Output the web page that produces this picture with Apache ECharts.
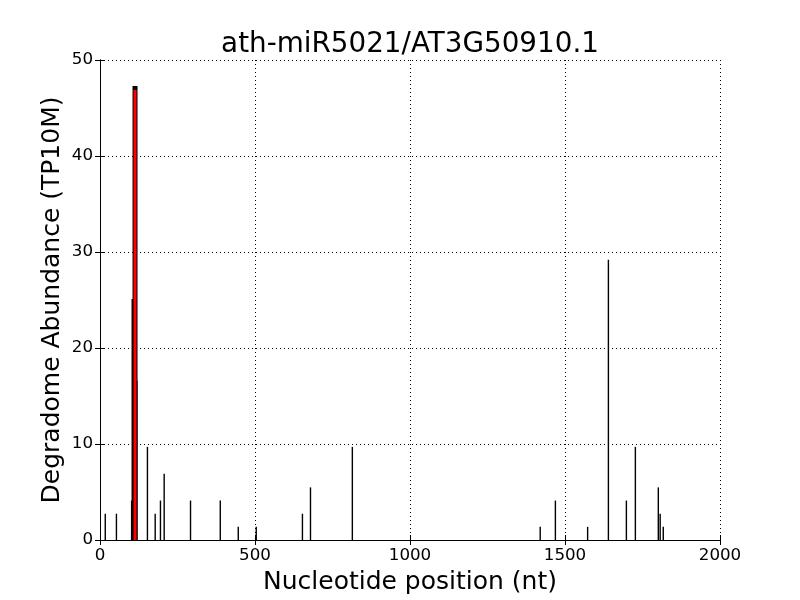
<!DOCTYPE html>
<html>
<head>
<meta charset="utf-8">
<script src="https://cdn.jsdelivr.net/npm/echarts@6/dist/echarts.min.js"></script>
<style>html,body{margin:0;padding:0;background:#fff}#c{width:800px;height:600px}</style>
</head>
<body>
<div id="c"></div>
<script>
var titleText = 'ath-miR5021/AT3G50910.1';
var xName = 'Nucleotide position (nt)';
var yName = 'Degradome Abundance (TP10M)';
var xTicks = [0, 500, 1000, 1500, 2000];
var yTicks = [0, 10, 20, 30, 40, 50];
var positions = [17, 53, 102, 104, 119, 153, 178, 195, 207, 292, 388, 446, 504, 653, 679, 814, 1420, 1469, 1573, 1640, 1698, 1727, 1801, 1807, 1817];
var values = [2.74, 2.74, 4.11, 25.1, 16.6, 9.7, 2.74, 4.11, 6.9, 4.11, 4.11, 1.37, 1.37, 2.74, 5.48, 9.7, 1.37, 4.11, 1.37, 29.2, 4.11, 9.7, 5.48, 2.74, 1.37];
var targetPositions = [113];
var targetValues = [47.3];

var chart = echarts.init(document.getElementById('c'), null, {renderer: 'canvas'});
var font = 'DejaVu Sans';
function pairs(xs, ys) { return xs.map(function (x, i) { return [x, ys[i]]; }); }

function lineItem(color, width, shrink) {
  return function (params, api) {
    var p0 = api.coord([api.value(0), 0]);
    var p1 = api.coord([api.value(0), api.value(1)]);
    return {
      type: 'line',
      shape: {x1: p0[0], y1: p0[1], x2: p1[0], y2: p1[1] + (shrink || 0)},
      style: {stroke: color, lineWidth: width}
    };
  };
}

var axisCommon = {
  axisLine: {show: true, lineStyle: {color: '#000', width: 1}},
  axisTick: {show: true, inside: true, length: 5, lineStyle: {color: '#000'}},
  splitLine: {show: false}
};
var labelStyle = {color: '#000', fontFamily: font, fontSize: 16.7, margin: 7,
  formatter: function (v) { return String(v); }};

chart.setOption({
  animation: false,
  backgroundColor: '#fff',
  title: {
    text: titleText, left: 405, top: 26, textAlign: 'center',
    textStyle: {fontFamily: font, fontSize: 27.8, fontWeight: 'normal', color: '#000'}
  },
  grid: {left: 100, right: 80, top: 60, bottom: 60},
  xAxis: [
    Object.assign({}, axisCommon, {
      type: 'value', min: 0, max: 2000, interval: 500, position: 'bottom',
      name: xName, nameLocation: 'middle', nameGap: 30, nameMoveOverlap: false,
      nameTextStyle: {fontFamily: font, fontSize: 25, color: '#000'},
      axisLabel: labelStyle,
      splitLine: {show: true, lineStyle: {color: '#000', width: 1, type: [1, 3]}}
    }),
    Object.assign({}, axisCommon, {
      type: 'value', min: 0, max: 2000, interval: 500, position: 'top',
      axisLabel: {show: false}
    })
  ],
  yAxis: [
    Object.assign({}, axisCommon, {
      type: 'value', min: 0, max: 50, interval: 10, position: 'left',
      name: yName, nameLocation: 'middle', nameGap: 35, nameMoveOverlap: false,
      nameTextStyle: {fontFamily: font, fontSize: 25, color: '#000'},
      axisLabel: labelStyle,
      splitLine: {show: true, lineStyle: {color: '#000', width: 1, type: [1, 3]}}
    }),
    Object.assign({}, axisCommon, {
      type: 'value', min: 0, max: 50, interval: 10, position: 'right',
      axisLabel: {show: false}
    })
  ],
  series: [
    {
      type: 'custom', xAxisIndex: 0, yAxisIndex: 0,
      renderItem: lineItem('#000', 1.4, 0),
      data: pairs(positions, values), z: 3
    },
    {
      type: 'custom', xAxisIndex: 0, yAxisIndex: 0,
      renderItem: lineItem('#000', 5, 0),
      data: pairs(targetPositions, targetValues), z: 4
    },
    {
      type: 'custom', xAxisIndex: 0, yAxisIndex: 0,
      renderItem: lineItem('#ff0000', 3, 4),
      data: pairs(targetPositions, targetValues), z: 5
    }
  ]
});
</script>
</body>
</html>
